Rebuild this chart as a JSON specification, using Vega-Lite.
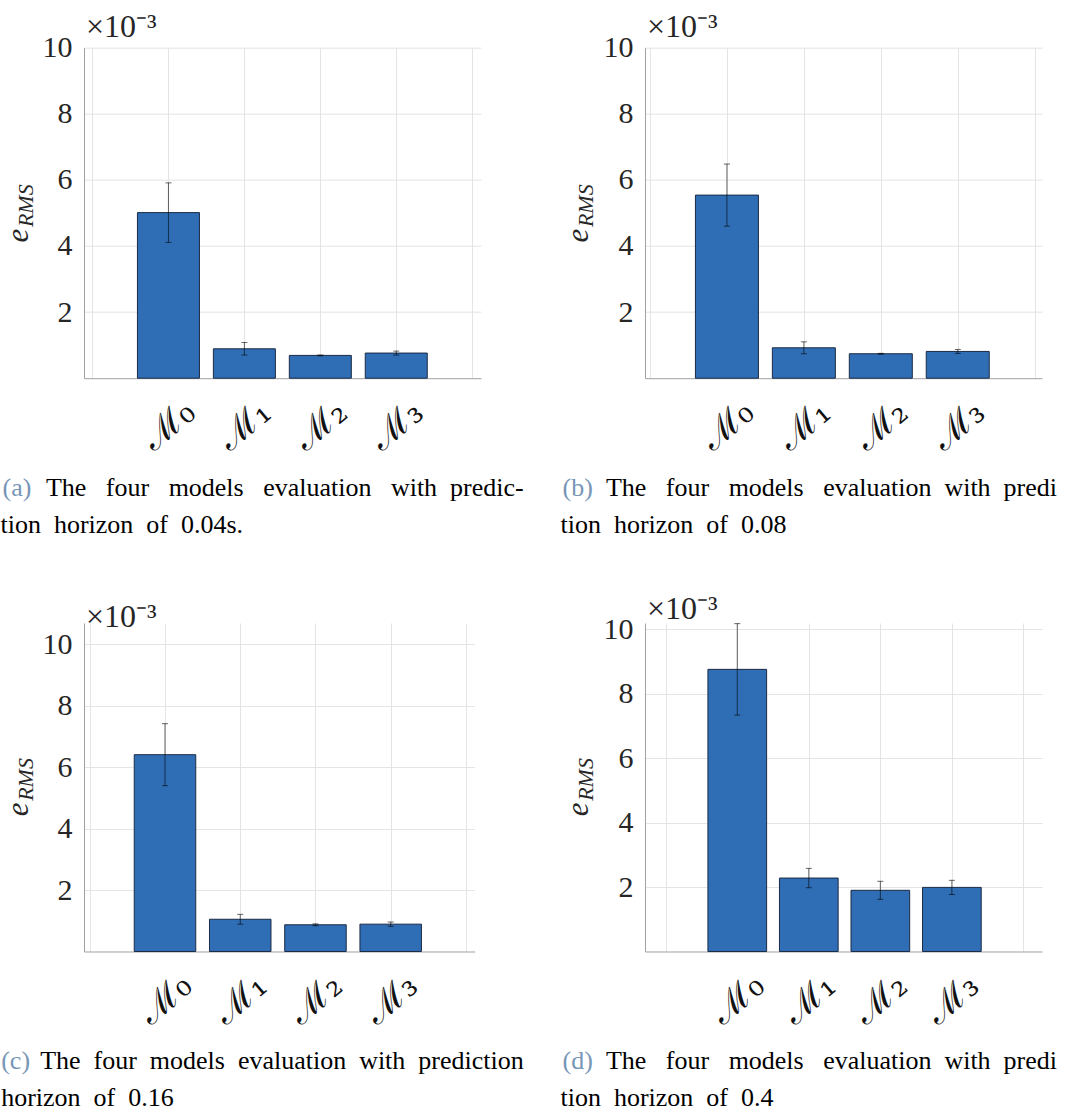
{
  "$schema": "https://vega.github.io/schema/vega-lite/v6.json",
  "background": "white",
  "padding": {"left": 0, "top": 10.7, "right": 0, "bottom": 0},
  "columns": 2,
  "spacing": {"row": 244.3, "column": 164},
  "bounds": "flush",
  "config": {
    "view": {"stroke": null},
    "axis": {"labelFont": "Liberation Serif", "titleFont": "Liberation Serif", "labelColor": "#262626", "titleColor": "#262626", "domainColor": "#a0a0a0", "gridColor": "#e4e4e4", "ticks": false},
    "title": {"font": "Liberation Serif", "fontSize": 32, "fontWeight": "normal", "color": "#262626", "anchor": "start", "frame": "group", "baseline": "alphabetic", "offset": -11.5, "dx": 2}
  },
  "concat": [
    {
      "width": 397, "height": 330.5,
      "title": {"text": "×10⁻³"},
      "data": {"values": [
        {"model": "M0", "pos": 1, "value": 5.01, "err": 0.90},
        {"model": "M1", "pos": 2, "value": 0.89, "err": 0.19},
        {"model": "M2", "pos": 3, "value": 0.69, "err": 0.012},
        {"model": "M3", "pos": 4, "value": 0.76, "err": 0.06}
      ]},
      "layer": [
        {
          "mark": {"type": "bar", "orient": "vertical", "size": 62, "color": "#2f6eb5", "stroke": "#1b2a44", "strokeWidth": 1},
          "encoding": {
            "x": {"field": "pos", "type": "quantitative", "scale": {"domain": [-0.046, 5.05], "nice": false, "zero": false},
              "axis": {"orient": "bottom", "values": [0, 1, 2, 3, 4, 5], "grid": true, "labelExpr": "datum.value >= 1 && datum.value <= 4 ? 'ℳ' + ['₀','₁','₂','₃'][datum.value - 1] : ''", "labelFont": "DejaVu Serif", "labelFontSize": 36, "labelAngle": -40, "labelAlign": "center", "labelBaseline": "middle", "labelPadding": 47, "labelColor": "#111",
                "title": ["\u200b\u00a0\u00a0\u00a0\u00a0\u00a0\u00a0\u00a0The\u00a0\u00a0 four\u00a0\u00a0 models\u00a0\u00a0 evaluation\u00a0\u00a0 with\u00a0 predic-", "tion\u00a0 horizon\u00a0 of\u00a0 0.04s."], "titleFontSize": 26, "titleColor": "#000", "titleFontWeight": "normal", "titleAlign": "left", "titleBaseline": "alphabetic", "titleAngle": 0, "titleX": -84, "titleY": 117, "titleLineHeight": 37}},
            "y": {"field": "value", "type": "quantitative", "scale": {"domain": [0, 10], "nice": false},
              "axis": {"orient": "left", "values": [2, 4, 6, 8, 10], "grid": true, "labelFontSize": 30, "labelPadding": 12, "title": "e", "titleFontStyle": "italic", "titleFontWeight": "normal", "titleFontSize": 31, "titleAngle": 270, "titleAlign": "center", "titleBaseline": "alphabetic", "titleX": -57, "titleY": 187.5}}
          }
        },
        {
          "mark": {"type": "errorbar", "ticks": {"size": 6, "color": "#000", "opacity": 0.6, "strokeWidth": 1}, "rule": {"color": "#000", "opacity": 0.6, "strokeWidth": 1}},
          "encoding": {
            "x": {"field": "pos", "type": "quantitative",
              "axis": {"orient": "bottom", "labels": false, "grid": false, "domain": false, "title": "(a)", "titleFontSize": 26, "titleColor": "#7896b6", "titleFontWeight": "normal", "titleAlign": "left", "titleBaseline": "alphabetic", "titleAngle": 0, "titleX": -82, "titleY": 117}},
            "y": {"field": "value", "type": "quantitative",
              "axis": {"orient": "left", "labels": false, "grid": false, "domain": false, "title": "RMS", "titleFontStyle": "italic", "titleFontWeight": "normal", "titleFontSize": 22, "titleAngle": 270, "titleAlign": "center", "titleBaseline": "alphabetic", "titleX": -52, "titleY": 157.5}},
            "yError": {"field": "err"}
          }
        }
      ],
      "resolve": {"axis": {"x": "independent", "y": "independent"}}
    },
    {
      "width": 397, "height": 330.5,
      "title": {"text": "×10⁻³"},
      "data": {"values": [
        {"model": "M0", "pos": 1, "value": 5.54, "err": 0.94},
        {"model": "M1", "pos": 2, "value": 0.92, "err": 0.18},
        {"model": "M2", "pos": 3, "value": 0.74, "err": 0.012},
        {"model": "M3", "pos": 4, "value": 0.81, "err": 0.06}
      ]},
      "layer": [
        {
          "mark": {"type": "bar", "orient": "vertical", "size": 63, "color": "#2f6eb5", "stroke": "#1b2a44", "strokeWidth": 1},
          "encoding": {
            "x": {"field": "pos", "type": "quantitative", "scale": {"domain": [0, 5.03], "nice": false, "zero": false},
              "axis": {"orient": "bottom", "values": [0, 1, 2, 3, 4, 5], "grid": true, "labelExpr": "datum.value >= 1 && datum.value <= 4 ? 'ℳ' + ['₀','₁','₂','₃'][datum.value - 1] : ''", "labelFont": "DejaVu Serif", "labelFontSize": 36, "labelAngle": -40, "labelAlign": "center", "labelBaseline": "middle", "labelPadding": 47, "labelColor": "#111",
                "title": ["\u200b\u00a0\u00a0\u00a0\u00a0\u00a0\u00a0\u00a0The\u00a0\u00a0 four\u00a0\u00a0 models\u00a0\u00a0 evaluation\u00a0 with\u00a0 predi", "tion\u00a0 horizon\u00a0 of\u00a0 0.08"], "titleFontSize": 26, "titleColor": "#000", "titleFontWeight": "normal", "titleAlign": "left", "titleBaseline": "alphabetic", "titleAngle": 0, "titleX": -85, "titleY": 117, "titleLineHeight": 37}},
            "y": {"field": "value", "type": "quantitative", "scale": {"domain": [0, 10], "nice": false},
              "axis": {"orient": "left", "values": [2, 4, 6, 8, 10], "grid": true, "labelFontSize": 30, "labelPadding": 12, "title": "e", "titleFontStyle": "italic", "titleFontWeight": "normal", "titleFontSize": 31, "titleAngle": 270, "titleAlign": "center", "titleBaseline": "alphabetic", "titleX": -57, "titleY": 187.5}}
          }
        },
        {
          "mark": {"type": "errorbar", "ticks": {"size": 6, "color": "#000", "opacity": 0.6, "strokeWidth": 1}, "rule": {"color": "#000", "opacity": 0.6, "strokeWidth": 1}},
          "encoding": {
            "x": {"field": "pos", "type": "quantitative",
              "axis": {"orient": "bottom", "labels": false, "grid": false, "domain": false, "title": "(b)", "titleFontSize": 26, "titleColor": "#7896b6", "titleFontWeight": "normal", "titleAlign": "left", "titleBaseline": "alphabetic", "titleAngle": 0, "titleX": -83, "titleY": 117}},
            "y": {"field": "value", "type": "quantitative",
              "axis": {"orient": "left", "labels": false, "grid": false, "domain": false, "title": "RMS", "titleFontStyle": "italic", "titleFontWeight": "normal", "titleFontSize": 22, "titleAngle": 270, "titleAlign": "center", "titleBaseline": "alphabetic", "titleX": -52, "titleY": 157.5}},
            "yError": {"field": "err"}
          }
        }
      ],
      "resolve": {"axis": {"x": "independent", "y": "independent"}}
    },
    {
      "width": 390.7, "height": 328.5,
      "title": {"text": "×10⁻³"},
      "data": {"values": [
        {"model": "M0", "pos": 1, "value": 6.41, "err": 1.01},
        {"model": "M1", "pos": 2, "value": 1.05, "err": 0.16},
        {"model": "M2", "pos": 3, "value": 0.87, "err": 0.03},
        {"model": "M3", "pos": 4, "value": 0.89, "err": 0.07}
      ]},
      "layer": [
        {
          "mark": {"type": "bar", "orient": "vertical", "size": 61.5, "color": "#2f6eb5", "stroke": "#1b2a44", "strokeWidth": 1},
          "encoding": {
            "x": {"field": "pos", "type": "quantitative", "scale": {"domain": [-0.01, 5.05], "nice": false, "zero": false},
              "axis": {"orient": "bottom", "values": [0, 1, 2, 3, 4, 5], "grid": true, "labelExpr": "datum.value >= 1 && datum.value <= 4 ? 'ℳ' + ['₀','₁','₂','₃'][datum.value - 1] : ''", "labelFont": "DejaVu Serif", "labelFontSize": 36, "labelAngle": -40, "labelAlign": "center", "labelBaseline": "middle", "labelPadding": 47, "labelColor": "#111",
                "title": ["\u200b\u00a0\u00a0\u00a0\u00a0\u00a0\u00a0The\u00a0 four\u00a0 models\u00a0 evaluation\u00a0 with\u00a0 prediction", "horizon\u00a0 of\u00a0 0.16"], "titleFontSize": 26, "titleColor": "#000", "titleFontWeight": "normal", "titleAlign": "left", "titleBaseline": "alphabetic", "titleAngle": 0, "titleX": -83.3, "titleY": 117, "titleLineHeight": 37}},
            "y": {"field": "value", "type": "quantitative", "scale": {"domain": [0, 10.7], "nice": false},
              "axis": {"orient": "left", "values": [2, 4, 6, 8, 10], "grid": true, "labelFontSize": 30, "labelPadding": 12, "title": "e", "titleFontStyle": "italic", "titleFontWeight": "normal", "titleFontSize": 31, "titleAngle": 270, "titleAlign": "center", "titleBaseline": "alphabetic", "titleX": -57, "titleY": 186}}
          }
        },
        {
          "mark": {"type": "errorbar", "ticks": {"size": 6, "color": "#000", "opacity": 0.6, "strokeWidth": 1}, "rule": {"color": "#000", "opacity": 0.6, "strokeWidth": 1}},
          "encoding": {
            "x": {"field": "pos", "type": "quantitative",
              "axis": {"orient": "bottom", "labels": false, "grid": false, "domain": false, "title": "(c)", "titleFontSize": 26, "titleColor": "#7896b6", "titleFontWeight": "normal", "titleAlign": "left", "titleBaseline": "alphabetic", "titleAngle": 0, "titleX": -83.3, "titleY": 117}},
            "y": {"field": "value", "type": "quantitative",
              "axis": {"orient": "left", "labels": false, "grid": false, "domain": false, "title": "RMS", "titleFontStyle": "italic", "titleFontWeight": "normal", "titleFontSize": 22, "titleAngle": 270, "titleAlign": "center", "titleBaseline": "alphabetic", "titleX": -52, "titleY": 156}},
            "yError": {"field": "err"}
          }
        }
      ],
      "resolve": {"axis": {"x": "independent", "y": "independent"}}
    },
    {
      "width": 397, "height": 328.5,
      "title": {"text": "×10⁻³"},
      "data": {"values": [
        {"model": "M0", "pos": 1, "value": 8.76, "err": 1.42},
        {"model": "M1", "pos": 2, "value": 2.28, "err": 0.30},
        {"model": "M2", "pos": 3, "value": 1.90, "err": 0.28},
        {"model": "M3", "pos": 4, "value": 1.99, "err": 0.22}
      ]},
      "layer": [
        {
          "mark": {"type": "bar", "orient": "vertical", "size": 58.7, "color": "#2f6eb5", "stroke": "#1b2a44", "strokeWidth": 1},
          "encoding": {
            "x": {"field": "pos", "type": "quantitative", "scale": {"domain": [-0.22, 5.19], "nice": false, "zero": false},
              "axis": {"orient": "bottom", "values": [0, 1, 2, 3, 4, 5], "grid": true, "labelExpr": "datum.value >= 1 && datum.value <= 4 ? 'ℳ' + ['₀','₁','₂','₃'][datum.value - 1] : ''", "labelFont": "DejaVu Serif", "labelFontSize": 36, "labelAngle": -40, "labelAlign": "center", "labelBaseline": "middle", "labelPadding": 47, "labelColor": "#111",
                "title": ["\u200b\u00a0\u00a0\u00a0\u00a0\u00a0\u00a0\u00a0The\u00a0\u00a0 four\u00a0\u00a0 models\u00a0\u00a0 evaluation\u00a0 with\u00a0 predi", "tion\u00a0 horizon\u00a0 of\u00a0 0.4"], "titleFontSize": 26, "titleColor": "#000", "titleFontWeight": "normal", "titleAlign": "left", "titleBaseline": "alphabetic", "titleAngle": 0, "titleX": -85, "titleY": 117, "titleLineHeight": 37}},
            "y": {"field": "value", "type": "quantitative", "scale": {"domain": [0, 10.2], "nice": false},
              "axis": {"orient": "left", "values": [2, 4, 6, 8, 10], "grid": true, "labelFontSize": 30, "labelPadding": 12, "title": "e", "titleFontStyle": "italic", "titleFontWeight": "normal", "titleFontSize": 31, "titleAngle": 270, "titleAlign": "center", "titleBaseline": "alphabetic", "titleX": -57, "titleY": 186}}
          }
        },
        {
          "mark": {"type": "errorbar", "ticks": {"size": 6, "color": "#000", "opacity": 0.6, "strokeWidth": 1}, "rule": {"color": "#000", "opacity": 0.6, "strokeWidth": 1}},
          "encoding": {
            "x": {"field": "pos", "type": "quantitative",
              "axis": {"orient": "bottom", "labels": false, "grid": false, "domain": false, "title": "(d)", "titleFontSize": 26, "titleColor": "#7896b6", "titleFontWeight": "normal", "titleAlign": "left", "titleBaseline": "alphabetic", "titleAngle": 0, "titleX": -83, "titleY": 117}},
            "y": {"field": "value", "type": "quantitative",
              "axis": {"orient": "left", "labels": false, "grid": false, "domain": false, "title": "RMS", "titleFontStyle": "italic", "titleFontWeight": "normal", "titleFontSize": 22, "titleAngle": 270, "titleAlign": "center", "titleBaseline": "alphabetic", "titleX": -52, "titleY": 156}},
            "yError": {"field": "err"}
          }
        }
      ],
      "resolve": {"axis": {"x": "independent", "y": "independent"}}
    }
  ]
}
